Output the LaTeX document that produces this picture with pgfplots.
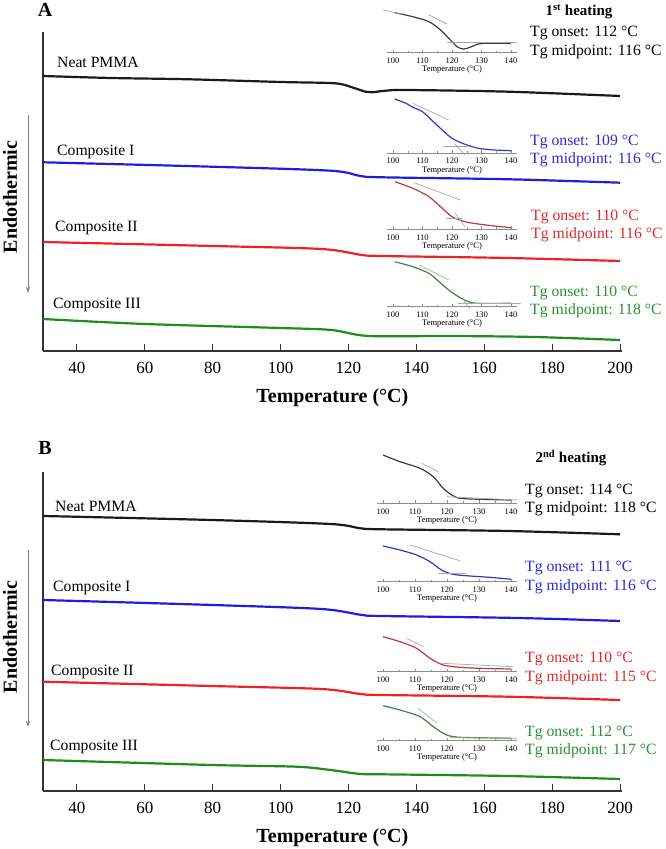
\documentclass[border=0pt]{standalone}
\usepackage{fontspec}
\setmainfont{Liberation Serif}
\usepackage{pgfplots}
\pgfplotsset{compat=1.18}
\usetikzlibrary{arrows.meta}

\definecolor{cblack}{HTML}{1A1A1A}
\definecolor{cblue}{HTML}{1E1EE0}
\definecolor{cred}{HTML}{EE2222}
\definecolor{cgreen}{HTML}{1E8C1E}
\definecolor{iblack}{HTML}{3C3C3C}
\definecolor{iblue}{HTML}{3535C8}
\definecolor{ired}{HTML}{C03838}
\definecolor{igreen}{HTML}{388A38}
\definecolor{tblue}{HTML}{2B2BD6}
\definecolor{tred}{HTML}{E02828}
\definecolor{tgreen}{HTML}{2A9030}
\definecolor{tang}{HTML}{A8A8A8}

\pgfplotsset{
  mainax/.style={scale only axis, width=578.7pt, height=319pt,
    xmin=30, xmax=200.5, ymin=0, ymax=319,
    axis lines*=left, ytick=\empty, xtick={40,60,...,200},
    tick align=inside, major tick length=7pt,
    axis line style={line width=1.2pt, black!80},
    tick style={line width=1pt, black!80},
    /pgf/number format/assume math mode=true,
    xticklabel style={font=\fontsize{17}{17}\selectfont, anchor=center, yshift=-17pt},
    xlabel={\textbf{Temperature (°C)}},
    xlabel style={font=\fontsize{20}{20}\selectfont, at={(axis description cs:0.5,0)}, anchor=center, yshift=-47pt},
    clip=false,
    every axis plot/.append style={line width=2.2pt, smooth}},
  inset/.style={scale only axis, height=50pt,
    xmin=98, xmax=142, ymin=0, ymax=50,
    axis x line*=bottom, axis y line=none,
    xtick={100,110,...,140}, minor x tick num=1,
    tick align=inside, major tick length=3pt, minor tick length=2pt,
    axis line style={line width=0.6pt, black!45},
    tick style={black!45, line width=0.5pt},
    /pgf/number format/assume math mode=true,
    xticklabel style={font=\fontsize{8.5}{8.5}\selectfont, anchor=center, yshift=-8pt},
    xlabel={Temperature (°C)},
    xlabel style={font=\fontsize{8.5}{8.5}\selectfont, at={(axis description cs:0.5,0)}, anchor=center, yshift=-17pt},
    clip=false},
  insetA/.style={inset, width=129.8pt},
  insetB/.style={inset, width=140.8pt},
  icurve/.style={line width=1.2pt, smooth},
  tline/.style={line width=0.7pt, tang},
}

\begin{document}
\begin{tikzpicture}[x=1pt, y=1pt]
\useasboundingbox (0,0) rectangle (666,849);

% ---------------- panel A: 1st heating ----------------
\begin{axis}[mainax, at={(43pt,498pt)}, anchor=south west]
  \addplot[cblack] coordinates {(30,275) (50,273) (73,271.7) (100,269) (116,267.7) (121,263.7) (125,259.3) (127,258.7) (131,260.3) (137,261) (167,259.3) (200,255)};
  \addplot[cblue] coordinates {(30,188.7) (79.6,184.3) (114.7,180.3) (123.5,175) (129.8,173.7) (167.4,171.7) (200,168.3)};
  \addplot[cred] coordinates {(30,109) (80,105) (112,102) (124,96) (130,95) (167,93) (200,90)};
  \addplot[cgreen] coordinates {(30,32) (60,27) (100,23) (115,21) (126,15) (150,15) (175,14) (200,11)};
\end{axis}

\begin{axis}[insetA, at={(387.1pt,796.3pt)}, anchor=south west]
  \addplot[icurve, iblack] coordinates {(100.6,40) (106.7,36) (112.2,31) (116.1,22.7) (118.9,14.4) (121.7,6) (123.9,3.7) (126.1,5.4) (128.9,8.7) (132.2,9.4) (138.9,9.4) (140,9.4)};
  \addplot[tline] coordinates {(96.7,42.7) (103,38.5)};
  \addplot[tline] coordinates {(112.2,37.7) (118.3,28.7)};
  \addplot[tline] coordinates {(118.3,10) (142.2,10)};
\end{axis}
\begin{axis}[insetA, at={(387.1pt,696pt)}, anchor=south west]
  \addplot[icurve, iblue] coordinates {(100.6,54) (104.4,49.7) (106.7,45.7) (110,41.3) (113.3,32.3) (116.7,23) (120,14.7) (124.4,8.7) (128.9,4.7) (134.4,3) (140,2.3)};
  \addplot[tline] coordinates {(106.7,49.7) (118.9,33)};
  \addplot[tline] coordinates {(117,6.5) (125,6.5)};
  \addplot[tline] coordinates {(121,9) (124.5,-2)};
\end{axis}
\begin{axis}[insetA, at={(387.1pt,619.7pt)}, anchor=south west]
  \addplot[icurve, ired] coordinates {(100.6,47.6) (106.7,41) (112.2,32.6) (116.7,21) (120,12.6) (124.4,7.6) (128.9,5.3) (134.4,3.3) (140,1.6)};
  \addplot[tline] coordinates {(107.2,46.6) (122.8,29.3)};
  \addplot[tline] coordinates {(117.8,11) (123.3,11)};
  \addplot[tline] coordinates {(121,16.3) (124.4,2.6)};
\end{axis}
\begin{axis}[insetA, at={(387.1pt,542.3pt)}, anchor=south west]
  \addplot[icurve, igreen] coordinates {(100.6,45) (106.7,40) (112.2,33.4) (115.6,25) (118.9,16.7) (122.2,10) (125.6,5) (128.9,3.4) (140,3.4)};
  \addplot[tline] coordinates {(108.9,41.7) (118.9,26.7)};
  \addplot[tline] coordinates {(122.2,3.4) (143.3,3.4)};
  \addplot[tline] coordinates {(124,6) (126,-2)};
\end{axis}

% ---------------- panel B: 2nd heating ----------------
\begin{axis}[mainax, at={(43pt,58pt)}, anchor=south west]
  \addplot[cblack] coordinates {(30,275) (79.6,271) (114.7,267) (123.5,262.7) (129.8,261.7) (167,260) (200,256.7)};
  \addplot[cblue] coordinates {(30,191) (80,186) (112,182) (124,176) (130,175) (170,173) (200,170)};
  \addplot[cred] coordinates {(30,109.3) (79.6,105) (112,102) (123.5,97) (129.8,96) (167,94.3) (200,91)};
  \addplot[cgreen] coordinates {(30,31) (79.6,26) (104.7,24.3) (114.7,21) (123.5,17) (129.8,16.7) (167,15) (200,12)};
\end{axis}

\begin{axis}[insetB, at={(376.6pt,345.7pt)}, anchor=south west]
  \addplot[icurve, iblack] coordinates {(100,48.3) (105.3,41.6) (111.6,35) (115.7,26.6) (118.8,15) (121.5,8.3) (124.1,5) (130.3,4) (140,3.3)};
  \addplot[tline] coordinates {(112.1,40) (117.3,31.6)};
  \addplot[tline] coordinates {(119.9,6.6) (141.8,3.3)};
\end{axis}
\begin{axis}[insetB, at={(376.6pt,267.3pt)}, anchor=south west]
  \addplot[icurve, iblue] coordinates {(100,35.7) (105.3,31.7) (110.5,26.7) (114.7,20) (118.3,11.7) (121.9,7.4) (127.1,5.7) (133.3,4.4) (140,2.4)};
  \addplot[tline] coordinates {(108.4,36.7) (124,21)};
  \addplot[tline] coordinates {(117.2,8.4) (126,8.4)};
\end{axis}
\begin{axis}[insetB, at={(376.6pt,177.3pt)}, anchor=south west]
  \addplot[icurve, ired] coordinates {(100,35) (105.3,30) (110.5,23.4) (114.7,13.4) (118.8,6.7) (124,4.4) (130.2,3.4) (140,2.7)};
  \addplot[tline] coordinates {(107.4,33.4) (112.6,25)};
  \addplot[tline] coordinates {(118.3,8.4) (140.7,5)};
\end{axis}
\begin{axis}[insetB, at={(376.6pt,108.3pt)}, anchor=south west]
  \addplot[icurve, igreen] coordinates {(100,35) (105.3,30.7) (111.6,24) (115.7,14) (119.9,5.7) (124,3.4) (130.2,3) (140,2.4)};
  \addplot[tline] coordinates {(111,32.4) (116.8,17.4)};
  \addplot[tline] coordinates {(120.9,3) (141.8,2.4)};
\end{axis}

% ---------------- text ----------------
\begin{scope}[every node/.style={font=\fontsize{15.7}{16}\selectfont, inner sep=0pt}]
  % panel letters and headings
  \node[font=\bfseries\fontsize{20}{20}\selectfont] at (45,839) {A};
  \node[font=\bfseries\fontsize{20}{20}\selectfont] at (45,401) {B};
  \node[font=\bfseries\fontsize{15}{15}\selectfont] at (579,837) {1\textsuperscript{st} heating};
  \node[font=\bfseries\fontsize{15}{15}\selectfont] at (571,391) {2\textsuperscript{nd} heating};
  % y labels and arrows
  \node[rotate=90, font=\bfseries\fontsize{20}{20}\selectfont] at (10,652) {Endothermic};
  \node[rotate=90, font=\bfseries\fontsize{20}{20}\selectfont] at (10,212) {Endothermic};
  \draw[-{Stealth[length=6pt, width=4pt]}, line width=0.9pt, black!50] (28,734) -- (28,556);
  \draw[-{Stealth[length=6pt, width=4pt]}, line width=0.9pt, black!50] (28,299) -- (28,122);
  % sample names
  \node[anchor=west] at (57,787) {Neat PMMA};
  \node[anchor=west] at (57,697) {Composite I};
  \node[anchor=west] at (55,621) {Composite II};
  \node[anchor=west] at (53,544) {Composite III};
  \node[anchor=west] at (55,343) {Neat PMMA};
  \node[anchor=west] at (53,261) {Composite I};
  \node[anchor=west] at (51,177) {Composite II};
  \node[anchor=west] at (50,102) {Composite III};
  % Tg values, panel A
  \node[anchor=west] at (530,816) {Tg onset: 112 °C};
  \node[anchor=west] at (530,797) {Tg midpoint: 116 °C};
  \node[anchor=west, text=tblue] at (530,707) {Tg onset: 109 °C};
  \node[anchor=west, text=tblue] at (530,689) {Tg midpoint: 116 °C};
  \node[anchor=west, text=tred] at (531,632) {Tg onset: 110 °C};
  \node[anchor=west, text=tred] at (531,614) {Tg midpoint: 116 °C};
  \node[anchor=west, text=tgreen] at (530,556) {Tg onset: 110 °C};
  \node[anchor=west, text=tgreen] at (530,538) {Tg midpoint: 118 °C};
  % Tg values, panel B
  \node[anchor=west] at (525,358) {Tg onset: 114 °C};
  \node[anchor=west] at (525,340) {Tg midpoint: 118 °C};
  \node[anchor=west, text=tblue] at (525,281) {Tg onset: 111 °C};
  \node[anchor=west, text=tblue] at (525,262) {Tg midpoint: 116 °C};
  \node[anchor=west, text=tred] at (525,190) {Tg onset: 110 °C};
  \node[anchor=west, text=tred] at (525,171) {Tg midpoint: 115 °C};
  \node[anchor=west, text=tgreen] at (525,116) {Tg onset: 112 °C};
  \node[anchor=west, text=tgreen] at (525,98) {Tg midpoint: 117 °C};
\end{scope}
\end{tikzpicture}
\end{document}
